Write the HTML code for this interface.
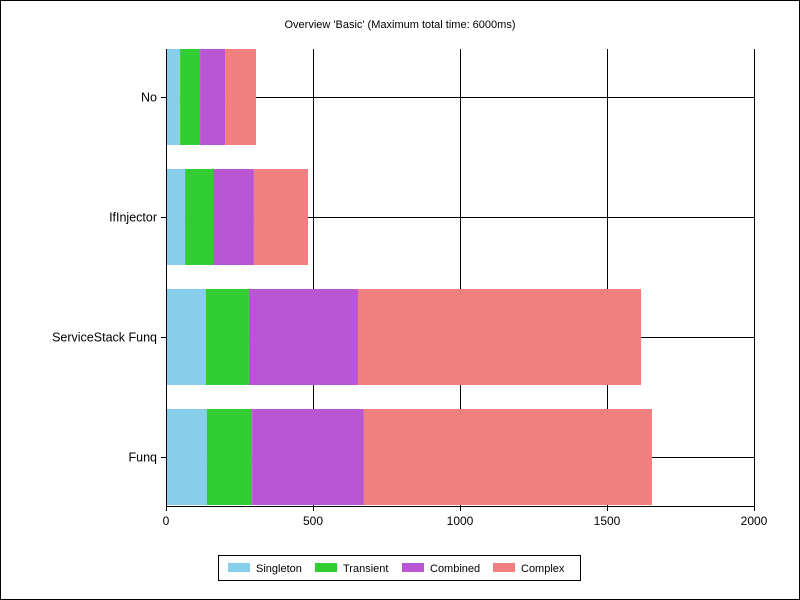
<!DOCTYPE html>
<html><head><meta charset="utf-8"><style>
body{margin:0;background:#fff}
svg{display:block;font-family:"Liberation Sans",sans-serif}
</style></head><body>
<svg id="c" width="800" height="600">
<rect x="0.5" y="0.5" width="799" height="599" fill="#fff" stroke="#000"/>
<text x="400" y="28" font-size="11" text-anchor="middle">Overview 'Basic' (Maximum total time: 6000ms)</text>
<g id="grid"></g><g id="bars"></g><g id="axes"></g>
<g font-size="11">
<rect x="218.5" y="555.5" width="362" height="25" fill="#fff" stroke="#000"/>
<g id="leg"></g>
</g>
</svg>
<script>
const categories=["No","IfInjector","ServiceStack Funq","Funq"];
const seriesNames=["Singleton","Transient","Combined","Complex"];
const singleton=[48,65,136,139];
const transient=[68,95,146,154];
const combined=[85,139,371,380];
const complex=[105,184,963,980];
const xTicks=[0,500,1000,1500,2000];
const colors=["#87ceeb","#32cd32","#ba55d3","#f08080"];
const series=[singleton,transient,combined,complex];
const NS="http://www.w3.org/2000/svg";
const L=166,R=754,T=49,B=506,xMax=2000;
const x=v=>L+v/xMax*(R-L);
const band=120;
const yc=i=>97+band*i;
function mk(p,t,a){const e=document.createElementNS(NS,t);for(const k in a)e.setAttribute(k,a[k]);p.appendChild(e);return e;}
const grid=document.getElementById('grid'),bars=document.getElementById('bars'),axes=document.getElementById('axes'),leg=document.getElementById('leg');
xTicks.forEach(t=>{
  const g=mk(grid,'line',{x1:Math.round(x(t))+.5,x2:Math.round(x(t))+.5,y1:T,y2:B+5,stroke:'#000'});
  
  
  const tx=mk(axes,'text',{x:x(t),y:B+19,'font-size':12,'text-anchor':'middle'});
  tx.textContent=t;
  
  
});
categories.forEach((c,i)=>{
  const y=Math.round(yc(i))+.5;
  const h=mk(grid,'line',{x1:L-5,x2:R,y1:y,y2:y,stroke:'#000'});
  
  
  const tx=mk(axes,'text',{x:L-9,y:y+4,'font-size':12.5,'text-anchor':'end'});
  tx.textContent=c;
  
  
  let acc=0;
  series.forEach((s,k)=>{
    const x0=x(acc);acc+=s[i];const x1=x(acc);
    const r=mk(bars,'rect',{x:x0,y:yc(i)-48,width:x1-x0,height:96,fill:colors[k]});
    
    
  });
});
const ax=mk(axes,'path',{d:`M${L+.5},${T} V${B+.5} H${R}`,stroke:'#000',fill:'none'});


const lx=[228,315,402,493];
seriesNames.forEach((n,k)=>{
  const r=mk(leg,'rect',{x:lx[k],y:563,width:22,height:9,fill:colors[k]});
  
  
  const t=mk(leg,'text',{x:lx[k]+28,y:572});
  t.textContent=n;
  
  
});
</script>
</body></html>
